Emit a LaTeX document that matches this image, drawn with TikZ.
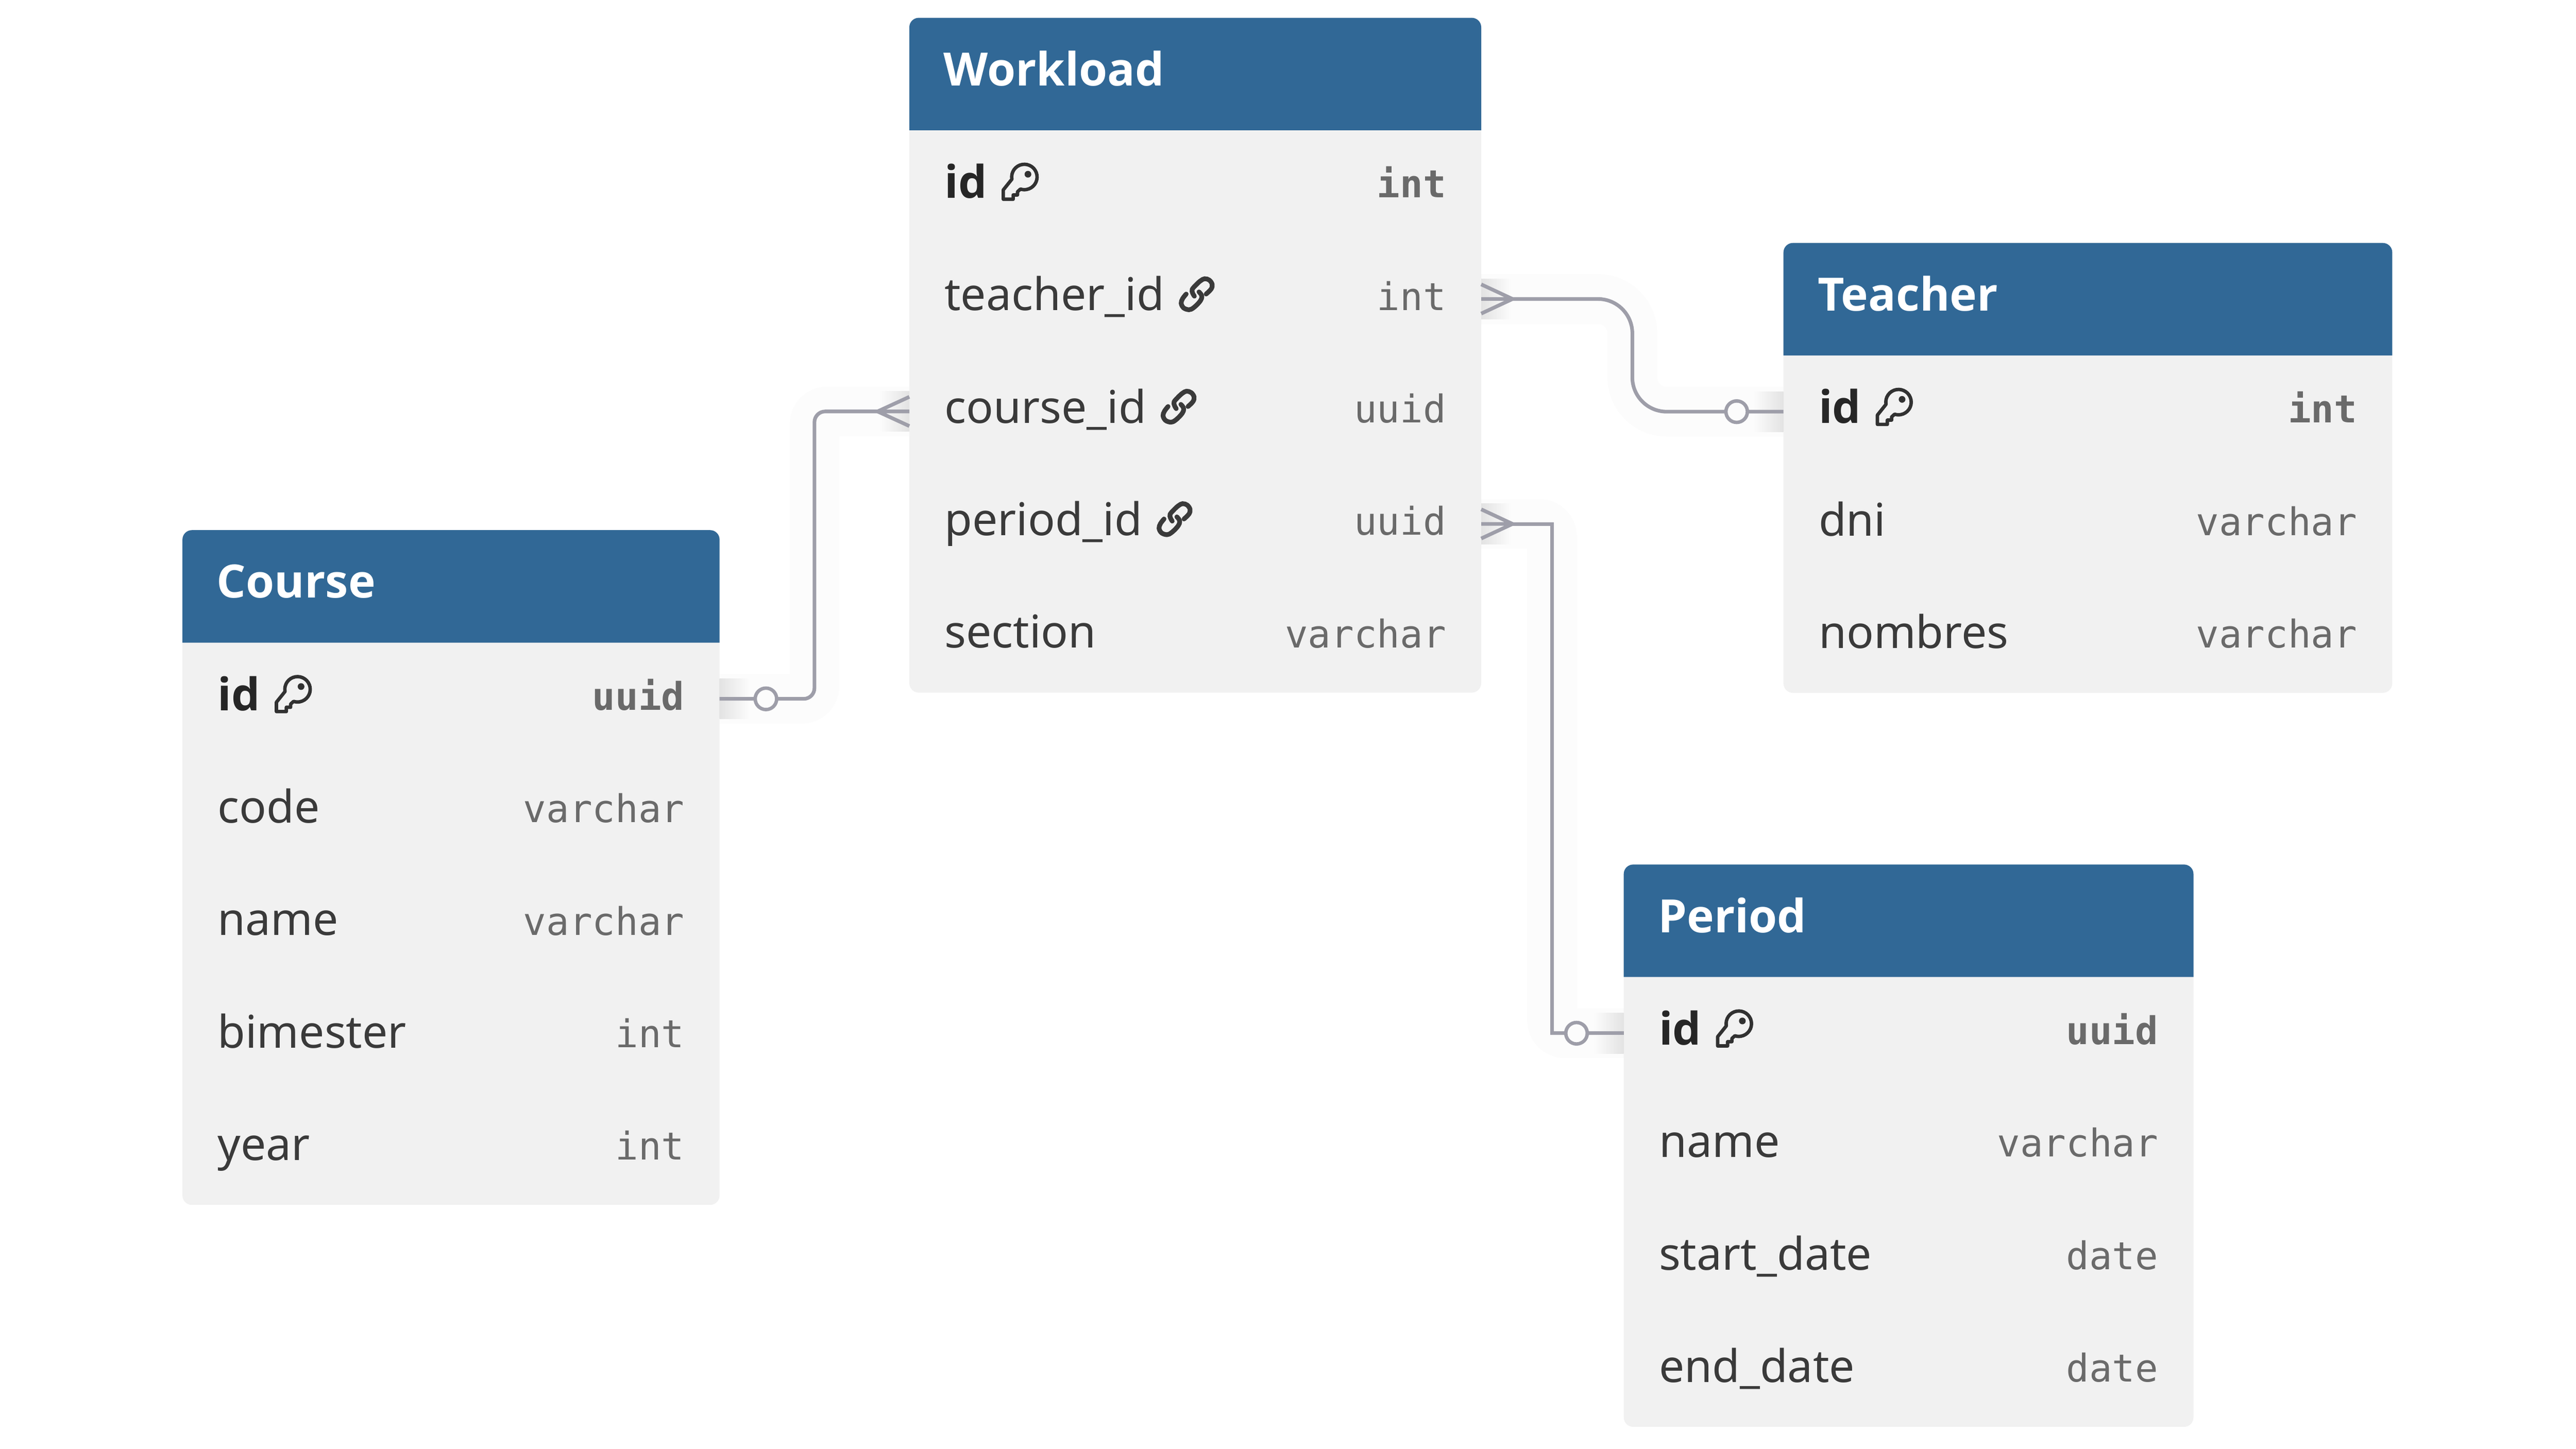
\documentclass[tikz,border=0pt]{standalone}
\usepackage{fontspec}
\setmainfont{Noto Sans}
\newfontfamily\boldsans{Open Sans}
\setmonofont{DejaVu Sans Mono}
\usepackage{tikz}
\usetikzlibrary{calc, positioning, backgrounds}
\definecolor{headblue}{HTML}{316896}
\definecolor{platefill}{HTML}{F1F1F1}
\definecolor{fieldtext}{HTML}{3A3A3A}
\definecolor{typetext}{HTML}{6A6A6A}
\definecolor{relline}{HTML}{9E9EA9}
\definecolor{glowfill}{HTML}{FCFCFC}
\tikzset{plate/.style={fill=platefill, rounded corners=2.2pt, anchor=north west, inner sep=0pt, outer sep=0pt}}
\tikzset{rowbox/.style={anchor=north west, inner xsep=8.2pt, inner ysep=0pt, outer sep=0pt, text height=15.8pt, text depth=10.4pt}}
\tikzset{tabtitle/.style={rowbox, inner xsep=8pt, text=white, font=\boldsans\fontsize{10.7}{12}\selectfont\bfseries}}
\tikzset{field/.style={rowbox, text=fieldtext, font=\fontsize{10.5}{12}\selectfont, below=0pt of #1.south west, anchor=north west}}
\tikzset{keyfield/.style={field=#1, text=black!85, font=\boldsans\fontsize{10.5}{12}\selectfont\bfseries}}
\tikzset{dtype/.style={anchor=base east, inner xsep=8.2pt, inner ysep=0pt, outer sep=0pt, yshift=0.1pt, text=typetext, font=\ttfamily\fontsize{8.9}{12}\selectfont}}
\tikzset{keytype/.style={dtype, font=\ttfamily\fontsize{8.9}{12}\selectfont\bfseries}}
\tikzset{rel/.style={draw=relline, line width=0.85pt}}
\tikzset{ring/.style={circle, draw=relline, fill=glowfill, line width=0.8pt, minimum size=5pt, inner sep=0pt}}
\tikzset{glow/.style={draw=glowfill, line width=11.6pt}}
\tikzset{keyicon/.pic={
    \begin{scope}[x=8.7pt, y=8.7pt]
        \draw[fieldtext!85!black, line width=0.8pt, line join=round]
            (.28,.587) arc[start angle=190, end angle=-108, radius=.34] -- (.43,.25) -- (.43,.165) -- (.315,.165)
            -- (.315,.05) -- (.05,.05) -- (.05,.3) -- cycle;
        \fill[fieldtext!85!black] (.71,.72) circle[radius=.09];
    \end{scope}
}}
\tikzset{linkicon/.pic={
    \begin{scope}[x=8.3pt, y=8.3pt]
        \draw[fieldtext, line width=1.1pt, line cap=round] plot[smooth, tension=.6] coordinates
            {(.76,.5) (.90,.64) (.93,.77) (.85,.89) (.72,.93) (.6,.87) (.47,.75) (.37,.63) (.38,.53) (.43,.44)};
        \draw[fieldtext, line width=1.1pt, line cap=round] plot[smooth, tension=.6] coordinates
            {(.2,.5) (.1,.37) (.06,.24) (.13,.11) (.28,.06) (.4,.11) (.55,.25) (.63,.37) (.63,.47) (.56,.56)};
    \end{scope}
}}
\newcommand{\tabhead}[2]{%
    \fill[headblue] ($(#1.north west)+(0,-26.2pt)$) [rounded corners=2.2pt] -- (#1.north west) -- (#1.north east)
        [sharp corners] -- ($(#1.north east)+(0,-26.2pt)$) -- cycle;
    \node[tabtitle] (#1h) at (#1.north west) {#2};
}
\newcommand{\crowfoot}[2]{%
    \draw[rel] (#1) -- (#2) ([yshift=3.4pt]#1) -- (#2) -- ([yshift=-3.4pt]#1);
}

\begin{document}
\begin{tikzpicture}[x=1pt, y=-1pt]

    \useasboundingbox (0,0) rectangle (600,337.5);

    % Workload
    \node[plate, minimum width=133.2pt, minimum height=157.2pt] (wl) at (211.8,4.15) {};
    \tabhead{wl}{Workload}
    \node[keyfield=wlh] (wl1) {id};
    \node[field=wl1] (wl2) {teacher\_id};
    \node[field=wl2] (wl3) {course\_id};
    \node[field=wl3] (wl4) {period\_id};
    \node[field=wl4] (wl5) {section};
    \node[keytype] at (wl.east |- wl1.base) (wl1t) {int};
    \node[dtype] at (wl.east |- wl2.base) (wl2t) {int};
    \node[dtype] at (wl.east |- wl3.base) (wl3t) {uuid};
    \node[dtype] at (wl.east |- wl4.base) (wl4t) {uuid};
    \node[dtype] at (wl.east |- wl5.base) (wl5t) {varchar};
    \pic at ($(wl1.base east)+(-4.8pt,-0.7pt)$) {keyicon};
    \pic at ($(wl2.base east)+(-4.8pt,-0.3pt)$) {linkicon};
    \pic at ($(wl3.base east)+(-4.8pt,-0.3pt)$) {linkicon};
    \pic at ($(wl4.base east)+(-4.8pt,-0.3pt)$) {linkicon};

    % Teacher
    \node[plate, minimum width=141.8pt, minimum height=104.8pt] (tc) at (415.4,56.6) {};
    \tabhead{tc}{Teacher}
    \node[keyfield=tch] (tc1) {id};
    \node[field=tc1] (tc2) {dni};
    \node[field=tc2] (tc3) {nombres};
    \node[keytype] at (tc.east |- tc1.base) (tc1t) {int};
    \node[dtype] at (tc.east |- tc2.base) (tc2t) {varchar};
    \node[dtype] at (tc.east |- tc3.base) (tc3t) {varchar};
    \pic at ($(tc1.base east)+(-4.8pt,-0.7pt)$) {keyicon};

    % Course
    \node[plate, minimum width=125.1pt, minimum height=157.2pt] (cs) at (42.5,123.5) {};
    \tabhead{cs}{Course}
    \node[keyfield=csh] (cs1) {id};
    \node[field=cs1] (cs2) {code};
    \node[field=cs2] (cs3) {name};
    \node[field=cs3] (cs4) {bimester};
    \node[field=cs4] (cs5) {year};
    \node[keytype] at (cs.east |- cs1.base) (cs1t) {uuid};
    \node[dtype] at (cs.east |- cs2.base) (cs2t) {varchar};
    \node[dtype] at (cs.east |- cs3.base) (cs3t) {varchar};
    \node[dtype] at (cs.east |- cs4.base) (cs4t) {int};
    \node[dtype] at (cs.east |- cs5.base) (cs5t) {int};
    \pic at ($(cs1.base east)+(-4.8pt,-0.7pt)$) {keyicon};

    % Period
    \node[plate, minimum width=132.7pt, minimum height=131pt] (pd) at (378.2,201.4) {};
    \tabhead{pd}{Period}
    \node[keyfield=pdh] (pd1) {id};
    \node[field=pd1] (pd2) {name};
    \node[field=pd2] (pd3) {start\_date};
    \node[field=pd3] (pd4) {end\_date};
    \node[keytype] at (pd.east |- pd1.base) (pd1t) {uuid};
    \node[dtype] at (pd.east |- pd2.base) (pd2t) {varchar};
    \node[dtype] at (pd.east |- pd3.base) (pd3t) {date};
    \node[dtype] at (pd.east |- pd4.base) (pd4t) {date};
    \pic at ($(pd1.base east)+(-4.8pt,-0.7pt)$) {keyicon};

    % connector ends
    \coordinate (wl3in) at (wl.west |- wl3);
    \coordinate (wl2out) at (wl.east |- wl2);
    \coordinate (wl4out) at (wl.east |- wl4);
    \coordinate (cs1out) at (cs.east |- cs1);
    \coordinate (tc1in) at (tc.west |- tc1);
    \coordinate (pd1in) at (pd.west |- pd1);
    \coordinate[left=7.4pt of wl3in] (wl3crow);
    \coordinate[right=7.3pt of wl2out] (wl2crow);
    \coordinate[right=7.3pt of wl4out] (wl4crow);

    \begin{pgfonlayer}{background}
        \draw[glow, rounded corners=3pt] (cs1out) -- ++(22.1,0) |- (wl3in);
        \draw[glow, rounded corners=8pt] (wl2out) -- ++(35.2,0) |- (tc1in);
        \draw[glow, rounded corners=3pt] (wl4out) -- ++(16.5,0) |- (pd1in);
    \end{pgfonlayer}

    \shade[left color=glowfill!90!black, right color=glowfill] ($(cs1out)+(0,-4.7pt)$) rectangle ($(cs1out)+(7pt,4.7pt)$);
    \shade[left color=glowfill!90!black, right color=glowfill] ($(wl2out)+(0,-4.7pt)$) rectangle ($(wl2out)+(7pt,4.7pt)$);
    \shade[left color=glowfill!90!black, right color=glowfill] ($(wl4out)+(0,-4.7pt)$) rectangle ($(wl4out)+(7pt,4.7pt)$);
    \shade[right color=glowfill!90!black, left color=glowfill] ($(wl3in)+(-7pt,-4.7pt)$) rectangle ($(wl3in)+(0,4.7pt)$);
    \shade[right color=glowfill!90!black, left color=glowfill] ($(tc1in)+(-7pt,-4.7pt)$) rectangle ($(tc1in)+(0,4.7pt)$);
    \shade[right color=glowfill!90!black, left color=glowfill] ($(pd1in)+(-7pt,-4.7pt)$) rectangle ($(pd1in)+(0,4.7pt)$);

    \draw[rel, rounded corners=2.5pt] (cs1out) -- ++(22.1,0) |- (wl3crow);
    \draw[rel, rounded corners=8pt] (wl2crow) -- ++(27.9,0) |- (tc1in);
    \draw[rel] (wl4crow) -- ++(9.2,0) |- (pd1in);

    \crowfoot{wl3in}{wl3crow}
    \crowfoot{wl2out}{wl2crow}
    \crowfoot{wl4out}{wl4crow}

    \node[ring, right=7.9pt of cs1out] (cs1ring) {};
    \node[ring, left=8pt of tc1in] (tc1ring) {};
    \node[ring, left=8.1pt of pd1in] (pd1ring) {};

\end{tikzpicture}
\end{document}
